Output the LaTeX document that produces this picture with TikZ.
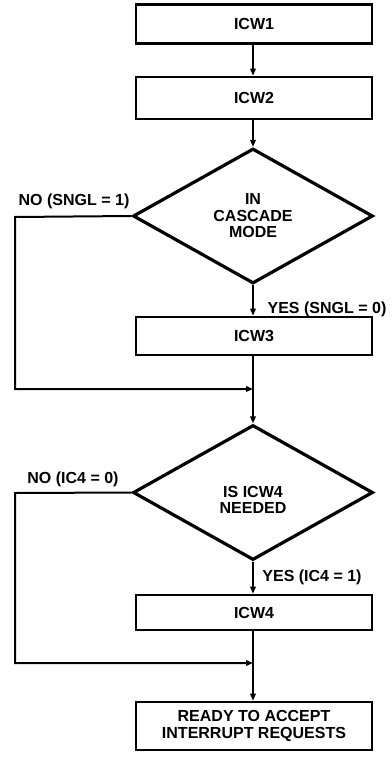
\documentclass[tikz,border=0pt]{standalone}
\usepackage{fontspec}
\setmainfont{Liberation Sans}
\usetikzlibrary{shapes.geometric,arrows.meta}
\tikzset{
  box/.style={draw, line width=2.6bp, minimum width=236bp, inner sep=0pt, align=center,
    font=\fontsize{16bp}{17bp}\selectfont\bfseries},
  decision/.style={draw, diamond, line width=3.2bp, minimum width=240bp, minimum height=135bp,
    inner sep=0pt, align=center, font=\fontsize{16bp}{16.5bp}\selectfont\bfseries},
  lbl/.style={inner sep=0pt, font=\fontsize{16bp}{17bp}\selectfont\bfseries},
  conn/.style={line width=2bp, -{Triangle[length=7bp,width=5.5bp]}},
  plain/.style={line width=2bp}
}
\begin{document}
\begin{tikzpicture}[x=1bp,y=-1bp]
\useasboundingbox (0,0) rectangle (391,759);
\node[box, minimum height=39bp] (icw1) at (254,24) {ICW1};
\node[box, minimum height=42bp] (icw2) at (254,98) {ICW2};
\node[decision] (d1) at (253,216) {IN\\CASCADE\\MODE};
\node[box, minimum height=38bp] (icw3) at (254,336) {ICW3};
\node[decision] (d2) at (253,492.5) {};
\node[lbl, align=center, font=\fontsize{16bp}{15.5bp}\selectfont\bfseries] (d2t) at (253,500) {IS ICW4\\NEEDED};
\node[box, minimum height=35bp] (icw4) at (254,612.5) {ICW4};
\node[box, minimum height=48bp] (ready) at (254,726) {READY TO ACCEPT\\INTERRUPT REQUESTS};

\node[lbl] (no1) at (74,201) {NO (SNGL = 1)};
\node[lbl] (yes1) at (327,309) {YES (SNGL = 0)};
\node[lbl] (no2) at (73,479) {NO (IC4 = 0)};
\node[lbl] (yes2) at (312,577) {YES (IC4 = 1)};

\coordinate (j1) at (253,389);
\coordinate (j2) at (253,663);
\coordinate (c1) at (15,217);
\coordinate (c2) at (15,389);
\coordinate (c3) at (15,493);
\coordinate (c4) at (15,663);

\draw[conn] (icw1.south -| d1.north) -- (icw2.north -| d1.north);
\draw[conn] (icw2.south -| d1.north) -- (d1.north);
\draw[conn] (d1.south) -- (icw3.north -| d1.south);
\draw[plain] (icw3.south -| d1.south) -- (j1);
\draw[conn] (d1.west) -- (c1) -- (c2) -- (j1);
\draw[conn] (j1) -- (d2.north);
\draw[conn] (d2.south) -- (icw4.north -| d2.south);
\draw[plain] (icw4.south -| d2.south) -- (j2);
\draw[conn] (d2.west) -- (c3) -- (c4) -- (j2);
\draw[conn] (j2) -- (ready.north -| j2);
\end{tikzpicture}
\end{document}
